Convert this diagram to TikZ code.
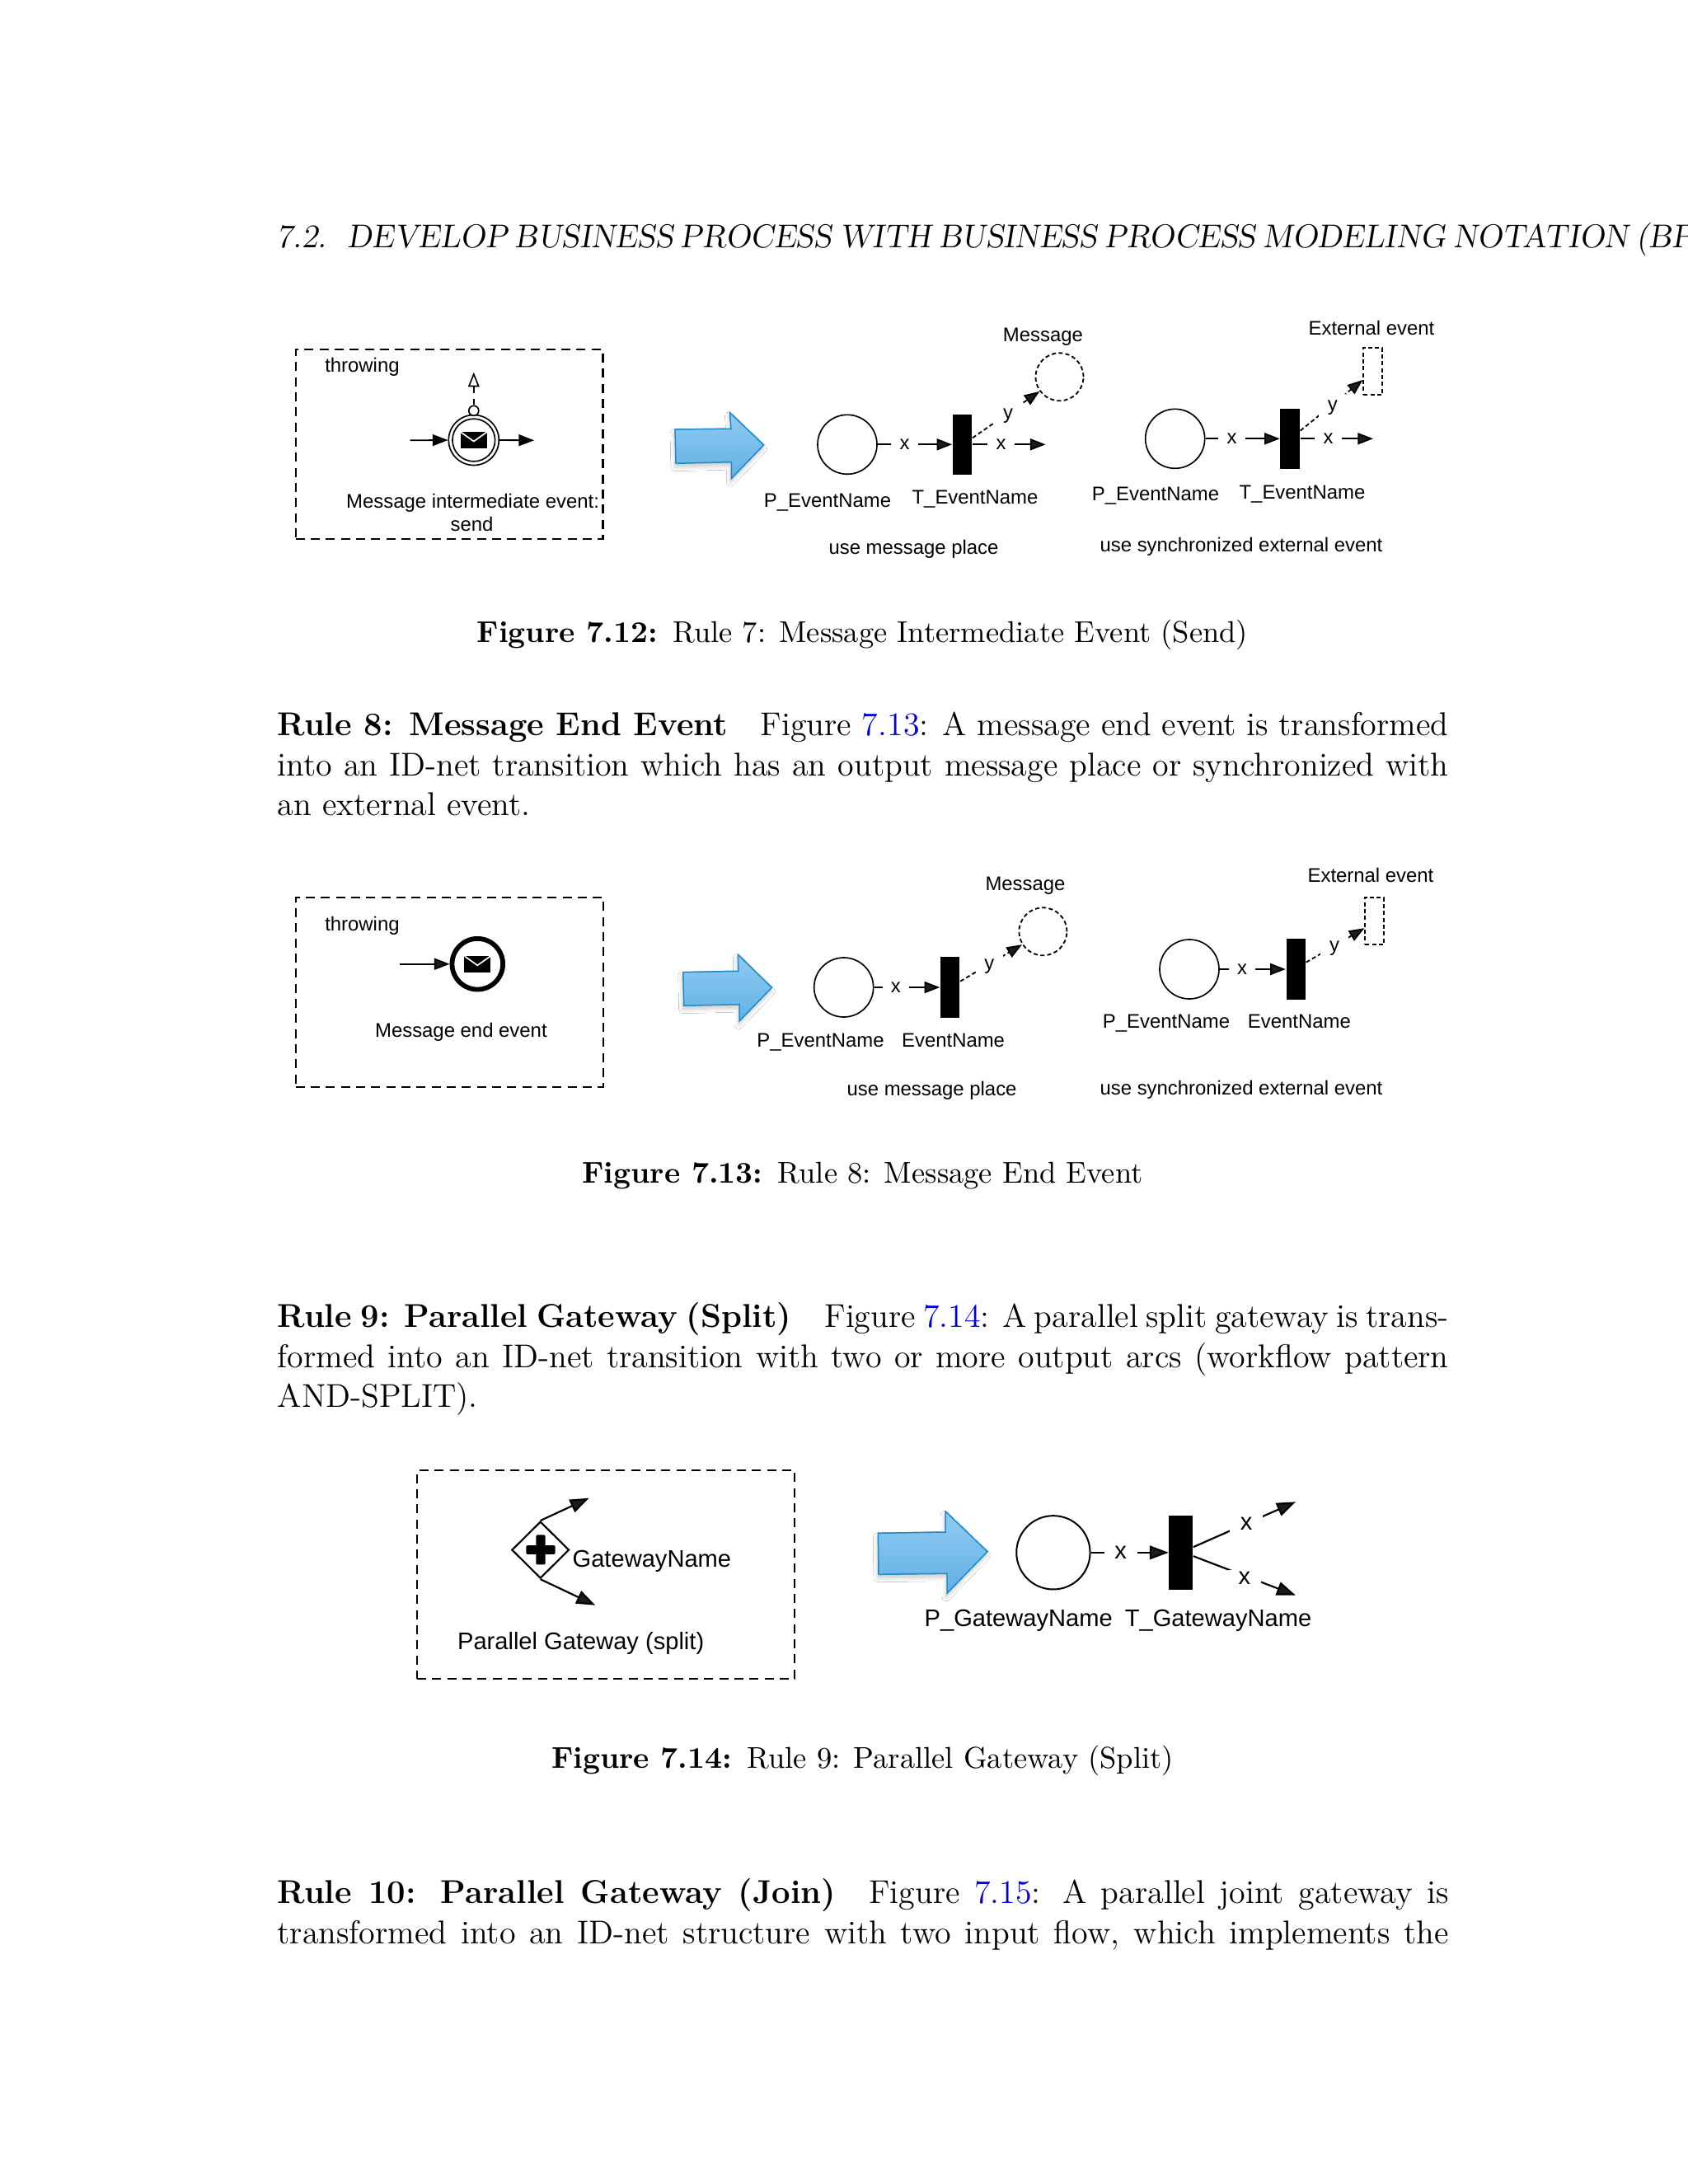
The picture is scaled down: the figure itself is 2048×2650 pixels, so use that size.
\documentclass[tikz,border=0pt]{standalone}
\usepackage{fontspec}
\usepackage{xcolor}
\usetikzlibrary{arrows.meta,positioning,shapes.geometric,shadows.blur}
\newfontfamily\diagfont{Liberation Sans}
\definecolor{arrowline}{RGB}{27,139,201}
\definecolor{arrowtop}{RGB}{143,203,242}
\definecolor{arrowbot}{RGB}{98,176,230}
\definecolor{reflink}{RGB}{0,0,220}
\newcommand{\figref}[1]{\textcolor{reflink}{#1}}

\begin{document}
\begin{tikzpicture}[
  x=0.3pt, y=-0.3pt,
  % Page text
  para/.style = {anchor=base west, inner sep=0pt, text width=426.3pt, align=justify,
                 font=\fontsize{12}{14.5}\selectfont},
  capt/.style = {anchor=base, inner sep=0pt, font=\fontsize{10.95}{13.6}\selectfont},
  % Labels of the small and the large figures
  lab/.style  = {anchor=base, inner sep=0pt, font=\diagfont\fontsize{7.17}{9}\selectfont},
  glab/.style = {anchor=base, inner sep=0pt, font=\diagfont\fontsize{8.73}{10.5}\selectfont},
  % Frame round the BPMN element
  frm/.style  = {draw, dashed, dash pattern=on 3.3pt off 2.2pt, line width=0.65pt,
                 anchor=north west, inner sep=0pt, outer sep=0pt},
  % Place, transition, dashed place, dashed event
  plc/.style  = {draw, circle, inner sep=0pt, line width=0.5pt, minimum size=21.6pt},
  trn/.style  = {fill=black, inner sep=0pt, minimum width=7.05pt, minimum height=22pt},
  mplc/.style = {plc, dashed, dash pattern=on 1.5pt off 1pt, line width=0.55pt, minimum size=17.4pt},
  mext/.style = {draw, dashed, dash pattern=on 1.5pt off 1pt, line width=0.55pt, inner sep=0pt,
                 minimum width=6.7pt, minimum height=17.3pt},
  % Connectors
  flow/.style  = {-{Triangle[length=5.6pt,width=4.2pt]}, line width=0.55pt},
  dflow/.style = {flow, dashed, dash pattern=on 1.5pt off 1pt},
  mflow/.style = {-{Triangle[open,length=5.3pt,width=4.1pt]}, line width=0.5pt,
                  dashed, dash pattern=on 2.2pt off 2.2pt},
  gflow/.style = {-{Triangle[length=6.9pt,width=5pt]}, line width=0.65pt},
  % White boxes that cut the connectors
  xl/.style   = {lab, anchor=center, fill=white, minimum width=9.8pt, minimum height=5pt},
  yl/.style   = {lab, anchor=center, fill=white, minimum size=10pt, yshift=-1pt},
  gxl/.style  = {glab, anchor=center, fill=white, minimum width=12pt, minimum height=6pt},
  % BPMN events
  evt/.style  = {draw, circle, inner sep=0pt, line width=0.5pt},
  envl/.style = {fill=black, inner sep=0pt, minimum width=9.6pt, minimum height=5.9pt,
                 path picture={\draw[white, line width=0.5pt]
                   (path picture bounding box.north west) --
                   ([yshift=-0.45pt]path picture bounding box.center) --
                   (path picture bounding box.north east);}},
  % Blue transformation arrow
  bigarr/.style = {draw=arrowline, line width=0.45pt, top color=arrowtop, bottom color=arrowbot,
                   line join=miter,
                   blur shadow={shadow xshift=-0.3pt, shadow yshift=-1.3pt, shadow opacity=22,
                                shadow blur radius=1.5pt, shadow blur steps=10}}
]
\clip (0,0) rectangle (2048,2650);
\path[fill=white] (0,0) rectangle (2048,2650);

% Running head
\node[anchor=base west, inner sep=0pt, font=\fontsize{12}{14.5}\slshape\selectfont] (head) at (335,300)
  {\spaceskip=2.66pt 7.2.\hspace{7.5pt}DEVELOP BUSINESS PROCESS WITH BUSINESS PROCESS MODELING NOTATION (BPMN)};

% ---- Figure 7.12 ----
\node[frm, minimum width=111.8pt, minimum height=68.9pt] (F1) at (358.8,424.3) {};
\node[lab, anchor=base west] (F1t) at (393.6,451) {throwing};
\node[evt, minimum size=18.3pt] (E1) at (574.8,534) {};
\node[evt, minimum size=15.5pt] (E1i) at (574.8,534) {};
\node[envl] (E1m) at (574.8,534) {};
\node[evt, fill=white, minimum size=3.6pt] (E1d) at (574.8,498.3) {};
\coordinate (E1u) at (574.8,451.7);
\coordinate (E1a) at (497.6,534.3);
\coordinate (E1b) at (648,534.3);
\draw[flow](E1a)--(E1.west);
\draw[flow](E1.east)--(E1b);
\draw[mflow](E1d.north)--(E1u);
\node[lab, anchor=base west] (F1a) at (419.5,616.7) {Message intermediate event:};
\node[lab] (F1b) at (572.6,644) {send};

\draw[bigarr] (819,521) -- (886.9,520.3) -- (885.5,500.7) -- (926.6,540) -- (887.3,580.7) -- (887.3,560.7) -- (820,562.3) -- cycle;

% Message place variant
\node[plc] (P1) at (1028,539.3) {};
\node[trn] (T1) at (1167.6,539.3) {};
\node[mplc] (M1) at (1285.5,457.3) {};
\coordinate (O1) at (1268.6,539.3);
\draw[flow](P1.east)--(T1.west) node[xl,pos=.362]{x};
\draw[flow](T1.east)--(O1) node[xl,pos=.39]{x};
\draw[dflow]([yshift=2.4pt]T1.east)--(M1.216) node[yl,pos=.53]{y};
\node[lab] (M1t) at (1265.4,414) {Message};
\node[lab] (P1t) at (1004,615) {P\_EventName};
\node[lab] (T1t) at (1183,611.7) {T\_EventName};
\node[lab] (C1a) at (1108.5,672.7) {use message place};

% External event variant
\node[plc] (P2) at (1425.7,532.3) {};
\node[trn] (T2) at (1565.2,532.3) {};
\node[mext] (X2) at (1665.5,450.5) {};
\coordinate (O2) at (1666,532.3);
\draw[flow](P2.east)--(T2.west) node[xl,pos=.356]{x};
\draw[flow](T2.east)--(O2) node[xl,pos=.384]{x};
\draw[dflow]([yshift=2.9pt]T2.east)--([yshift=-3.15pt]X2.west) node[yl,pos=.516]{y};
\node[lab] (X2t) at (1664,406.7) {External event};
\node[lab] (P2t) at (1402,607.7) {P\_EventName};
\node[lab] (T2t) at (1580,605) {T\_EventName};
\node[lab] (C1b) at (1506,669.4) {use synchronized external event};

\node[capt] (cap12) at (1046.5,779) {\textbf{Figure 7.12:}\enspace Rule 7: Message Intermediate Event (Send)};

% Rule 8
\node[para] (rule8) at (336,892.7) {\textbf{Rule 8: Message End Event}\quad Figure \figref{7.13}: A message end event is transformed into an ID-net transition which has an output message place or synchronized with an external event.};

% ---- Figure 7.13 ----
\node[frm, minimum width=112pt, minimum height=69pt] (F2) at (358.8,1088.7) {};
\node[lab, anchor=base west] (F2t) at (393.6,1129) {throwing};
\node[evt, line width=1.74pt, minimum size=18.5pt] (E2) at (579.3,1169.7) {};
\node[envl] (E2m) at (579.3,1169.8) {};
\coordinate (E2a) at (484.6,1169.7);
\draw[flow](E2a)--(E2.west);
\node[lab] (F2a) at (559.4,1258.7) {Message end event};

\draw[bigarr] (828.8,1179.7) -- (895.8,1178.3) -- (895.4,1158.3) -- (936.4,1198.3) -- (897.1,1239) -- (897.1,1218.7) -- (829.7,1220.3) -- cycle;

% Message place variant
\node[plc] (P3) at (1023.7,1198) {};
\node[trn] (T3) at (1152.7,1198) {};
\node[mplc] (M3) at (1265.4,1130.3) {};
\draw[flow](P3.east)--(T3.west) node[xl,pos=.33]{x};
\draw[dflow]([yshift=2.2pt]T3.east)--(M3.212) node[yl,pos=.47]{y};
\node[lab] (M3t) at (1244,1080) {Message};
\node[lab] (P3t) at (995.5,1270.7) {P\_EventName};
\node[lab] (T3t) at (1156.6,1270) {EventName};
\node[lab] (C2a) at (1130.6,1329.4) {use message place};

% External event variant
\node[plc] (P4) at (1443,1176) {};
\node[trn] (T4) at (1572.3,1176) {};
\node[mext] (X4) at (1667.5,1117.5) {};
\draw[flow](P4.east)--(T4.west) node[xl,pos=.34]{x};
\draw[dflow]([yshift=2.5pt]T4.east)--([yshift=-2.6pt]X4.west) node[yl,pos=.485]{y};
\node[lab] (X4t) at (1663,1070.7) {External event};
\node[lab] (P4t) at (1415,1247.7) {P\_EventName};
\node[lab] (T4t) at (1576.4,1247.7) {EventName};
\node[lab] (C2b) at (1506,1328.4) {use synchronized external event};

\node[capt] (cap13) at (1046.5,1435) {\textbf{Figure 7.13:}\enspace Rule 8: Message End Event};

% Rule 9
\node[para] (rule9) at (336,1610.7) {\textbf{Rule 9: Parallel Gateway (Split)}\quad Figure \figref{7.14}: A parallel split gateway is transformed into an ID-net transition with two or more output arcs (workflow pattern AND-SPLIT).};

% ---- Figure 7.14 ----
\node[frm, minimum width=137.5pt, minimum height=75.7pt] (F3) at (506,1784.3) {};
\node[evt, diamond, line width=0.65pt, minimum width=20.9pt, minimum height=20.7pt] (G3) at (655.7,1880.6) {};
\node[fill=black, inner sep=0pt, rounded corners=0.4pt, minimum width=10.6pt, minimum height=3.2pt] (G3h) at (656,1880.4) {};
\node[fill=black, inner sep=0pt, rounded corners=0.4pt, minimum width=3.4pt, minimum height=10.8pt] (G3v) at (656,1880.4) {};
\coordinate (G3a) at (714.6,1817.7);
\coordinate (G3b) at (722.3,1947.7);
\draw[gflow](G3.north)--(G3a);
\draw[gflow](G3.south)--(G3b);
\node[glab, anchor=base west] (G3t) at (694,1901.7) {GatewayName};
\node[glab] (F3a) at (704.7,2001.7) {Parallel Gateway (split)};

\draw[bigarr] (1065.3,1860.3) -- (1147.2,1859) -- (1147.2,1834) -- (1198,1882.7) -- (1149,1933.3) -- (1149,1909.3) -- (1066,1910.3) -- cycle;

\node[plc, line width=0.6pt, minimum size=26.8pt] (P5) at (1277.9,1883.8) {};
\node[trn, minimum width=8.6pt, minimum height=27pt] (T5) at (1432.8,1883.8) {};
\coordinate (O5a) at (1572,1822.3);
\coordinate (O5b) at (1572,1935.7);
\draw[gflow](P5.east)--(T5.west) node[gxl,pos=.383]{x};
\draw[gflow]([yshift=2pt]T5.east)--(O5a) node[gxl,pos=.517]{x};
\draw[gflow]([yshift=-1.3pt]T5.east)--(O5b) node[gxl,pos=.5,yshift=-0.8pt]{x};
\node[glab] (P5t) at (1235.7,1973.3) {P\_GatewayName};
\node[glab] (T5t) at (1478,1973.3) {T\_GatewayName};

\node[capt] (cap14) at (1046.5,2145) {\textbf{Figure 7.14:}\enspace Rule 9: Parallel Gateway (Split)};

% Rule 10
\node[para] (rule10) at (336,2309.7) {\parfillskip=0pt \textbf{Rule 10: Parallel Gateway (Join)}\quad Figure \figref{7.15}: A parallel joint gateway is transformed into an ID-net structure with two input flow, which implements the\par};

\end{tikzpicture}
\end{document}
